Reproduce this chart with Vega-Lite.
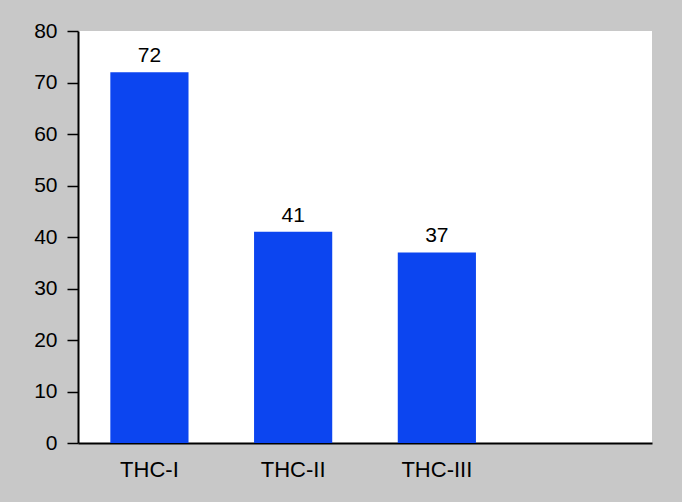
{
  "$schema": "https://vega.github.io/schema/vega-lite/v6.json",
  "width": 574,
  "height": 412,
  "autosize": {"type": "none"},
  "padding": {"left": 78, "top": 31, "right": 30, "bottom": 59},
  "background": "#c8c8c8",
  "config": {
    "view": {"fill": "white", "stroke": null},
    "font": "Liberation Sans"
  },
  "data": {
    "values": [
      {"group": "THC-I", "value": 72},
      {"group": "THC-II", "value": 41},
      {"group": "THC-III", "value": 37}
    ]
  },
  "encoding": {
    "x": {
      "field": "group",
      "type": "nominal",
      "sort": null,
      "title": null,
      "scale": {
        "domain": ["THC-I", "THC-II", "THC-III", " "],
        "paddingInner": 0.456,
        "paddingOuter": 0.225
      },
      "axis": {
        "labelAngle": 0,
        "ticks": false,
        "labelPadding": 16,
        "labelFontSize": 22,
        "labelColor": "black",
        "domainColor": "black",
        "domainWidth": 2
      }
    },
    "y": {
      "field": "value",
      "type": "quantitative",
      "title": null,
      "scale": {"domain": [0, 80], "nice": false},
      "axis": {
        "values": [0, 10, 20, 30, 40, 50, 60, 70, 80],
        "grid": false,
        "tickSize": 11,
        "tickWidth": 1.5,
        "tickColor": "black",
        "domainColor": "black",
        "domainWidth": 2,
        "labelPadding": 10,
        "labelFontSize": 21,
        "labelColor": "black"
      }
    }
  },
  "layer": [
    {"mark": {"type": "bar", "color": "#0c45f0"}},
    {
      "mark": {"type": "text", "baseline": "bottom", "dy": -6, "fontSize": 21, "color": "black"},
      "encoding": {"text": {"field": "value", "type": "quantitative"}}
    }
  ]
}
